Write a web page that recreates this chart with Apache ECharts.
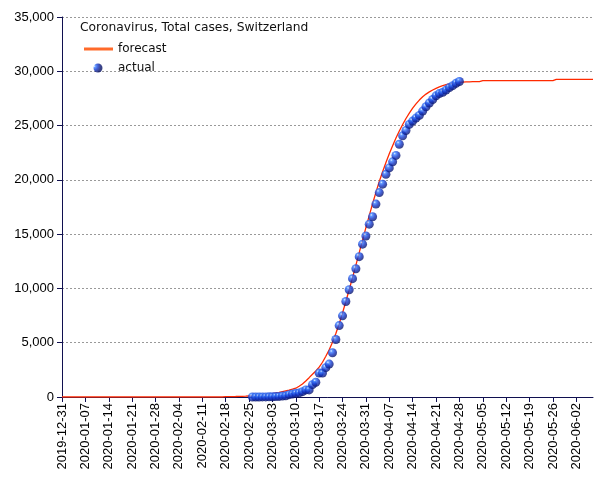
<!DOCTYPE html>
<html>
<head>
<meta charset="utf-8">
<script src="https://cdn.jsdelivr.net/npm/echarts@6/dist/echarts.min.js"></script>
<style>
  html, body { margin: 0; padding: 0; background: #fff; }
  #chart { width: 605px; height: 480px; }
</style>
</head>
<body>
<div id="chart"></div>
<script>
// x axis: one category per day, 2019-12-31 .. 2020-06-07
const startDate = "2019-12-31";
const dayCount = 160;

// forecast, one value per day from startDate
const forecastValues = [
  0, 0, 0, 0, 0, 0, 0, 0, 0, 0, 0, 0, 0, 0, 0, 0, 0, 0, 0, 0,
  0, 0, 0, 0, 0, 0, 0, 0, 0, 0, 0, 0, 0, 0, 0, 0, 0, 0, 0, 0,
  0, 0, 0, 0, 0, 0, 0, 0, 0,
  30, 35, 40, 45, 55, 65, 75, 90, 105, 125, 150, 180, 215, 260, 310, 370, 430, 500, 570, 640,
  720, 810, 990, 1200, 1480, 1780, 2100, 2400, 2750, 3200, 3750, 4350, 5050, 5850, 6750, 7750,
  8800, 9900, 11000, 12150, 13300, 14450, 15600, 16700, 17800, 18850, 19850, 20750, 21600, 22400,
  23150, 23850, 24500, 25100, 25650, 26150, 26600, 27000, 27350, 27650, 27900, 28100, 28280,
  28430, 28560, 28670, 28760, 28840, 28900, 28950, 28990, 29010, 29020, 29030, 29040, 29040, 29050,
  29140, 29140, 29140, 29140, 29140, 29140, 29140, 29140, 29140, 29140, 29140,
  29140, 29140, 29140, 29140, 29140, 29140, 29140, 29140, 29140, 29140, 29140,
  29260, 29260, 29260, 29260, 29260, 29260, 29260, 29260, 29260, 29260, 29260, 29260
];

// actual, one value per day starting at actualStart
const actualStart = "2020-02-26";
const actualValues = [
  0, 1, 1, 8, 8, 18, 27, 42, 56, 90, 114, 214, 268, 337, 374, 491, 652, 652, 1139, 1359,
  2200, 2200, 2700, 3028, 4075, 5294, 6575, 7474, 8795, 9877, 10897, 11811, 12928, 14076,
  14829, 15922, 16605, 17768, 18827, 19606, 20505, 21100, 21657, 22253, 23280, 24051, 24551,
  25107, 25415, 25688, 25936, 26336, 26732, 27078, 27404, 27740, 27944, 28063, 28268, 28496,
  28677, 28894, 29061
];

const yTicks = [0, 5000, 10000, 15000, 20000, 25000, 30000, 35000];

function dayString(base, n) {
  let d = new Date(base + "T00:00:00Z");
  d.setUTCDate(d.getUTCDate() + n);
  return d.toISOString().slice(0, 10);
}

let dates = [];
for (let i = 0; i < dayCount; i++) dates.push(dayString(startDate, i));

let actualData = actualValues.map((v, i) => [dayString(actualStart, i), v]);

let ballColor = new echarts.graphic.RadialGradient(0.36, 0.3, 0.72, [
  { offset: 0, color: "#dcecff" },
  { offset: 0.2, color: "#3c80ff" },
  { offset: 0.55, color: "#1438cc" },
  { offset: 1, color: "#081266" },
]);

let option = {
  animation: false,
  title: {
    text: "Coronavirus, Total cases, Switzerland",
    left: 75,
    top: 17,
    textStyle: { fontFamily: "DejaVu Sans", fontSize: 12.3, fontWeight: "normal", color: "#111" },
  },
  legend: {
    orient: "vertical",
    left: 79,
    top: 38,
    itemWidth: 29,
    itemHeight: 10,
    itemGap: 7,
    textStyle: { fontFamily: "DejaVu Sans", fontSize: 12, color: "#111" },
    data: [
      { name: "forecast", icon: "path://M0,0H29V3H0Z", itemStyle: { color: "#ff6a2a" } },
      { name: "actual", icon: "path://M0,5M29,5M9.5,5a4.5,4.5 0 1,0 9,0a4.5,4.5 0 1,0 -9,0Z" },
    ],
  },
  grid: { left: 62, right: 12, top: 17, bottom: 83 },
  xAxis: {
    type: "category",
    data: dates,
    boundaryGap: false,
    axisLine: { lineStyle: { color: "#101050", width: 1 } },
    axisTick: { interval: 6, length: 5, lineStyle: { color: "#101050" } },
    axisLabel: {
      interval: 6,
      rotate: 90,
      margin: 6,
      fontFamily: "Liberation Sans",
      fontSize: 13,
      color: "#000",
    },
    splitLine: { show: false },
  },
  yAxis: {
    type: "value",
    min: yTicks[0],
    max: yTicks[yTicks.length - 1],
    interval: 5000,
    axisLine: { show: true, lineStyle: { color: "#101050", width: 1 } },
    axisTick: { show: true, length: 5, lineStyle: { color: "#101050" } },
    axisLabel: {
      margin: 8,
      fontFamily: "Liberation Sans",
      fontSize: 13,
      color: "#000",
      formatter: (v) => v.toLocaleString("en-US"),
    },
    splitLine: { lineStyle: { color: "#999", type: [2, 2], width: 1 } },
  },
  series: [
    {
      name: "forecast",
      type: "line",
      data: forecastValues,
      showSymbol: false,
      symbol: "none",
      lineStyle: { color: "#ff2a00", width: 1.3 },
      itemStyle: { color: "#ff6a2a" },
      z: 2,
    },
    {
      name: "actual",
      type: "scatter",
      data: actualData,
      symbol: "circle",
      symbolSize: 9,
      itemStyle: { color: ballColor },
      z: 3,
    },
  ],
};

let myChart = echarts.init(document.getElementById("chart"));
myChart.setOption(option);
</script>
</body>
</html>
